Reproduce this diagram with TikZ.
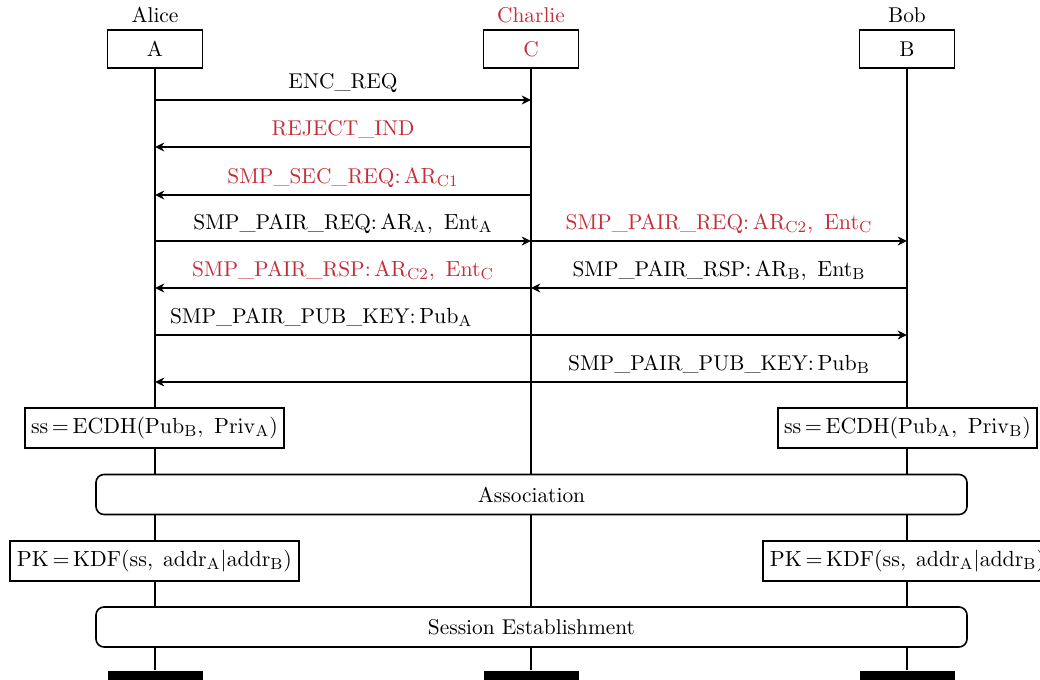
\documentclass[tikz,border=0pt]{standalone}
\usetikzlibrary{arrows.meta}
\definecolor{evered}{RGB}{196,46,56}
\DeclareMathSizes{10.7}{10.7}{7.8}{5.8}
\newcommand\idx[2]{\mathrm{#1}_{\mathrm{#2}}}
\begin{document}
\begin{tikzpicture}[x=0.5pt,y=-0.5pt,line width=0.8pt,
  font=\fontsize{10.7}{13}\selectfont,
  actor/.style={draw,fill=white,minimum width=47.5pt,minimum height=19pt,inner sep=0pt},
  calcbox/.style={draw,fill=white,minimum height=20pt,inner xsep=2pt,inner ysep=0pt},
  phase/.style={draw,fill=white,rounded corners=4pt,minimum width=435.5pt,minimum height=20pt},
  endbar/.style={fill=black,draw=none,minimum width=47.5pt,minimum height=10pt,anchor=north,inner sep=0pt},
  msg/.style={-{Stealth[length=4.6pt,width=4.4pt,inset=1.4pt]}},
  lbl/.style={anchor=base,yshift=6pt,inner sep=0pt},
  spy/.style={text=evered}]
\useasboundingbox (0,0) rectangle (1040,680);

% participants
\node[anchor=base] (tA) at (155,22) {Alice};
\node[anchor=base,spy] (tC) at (531,22) {Charlie};
\node[anchor=base] (tB) at (907,22) {Bob};
\node[actor] (A) at (155,49) {A};
\node[actor,spy] (C) at (531,49) {C};
\node[actor] (B) at (907,49) {B};

% end-of-life bars
\node[endbar] (eA) at (155,670) {};
\node[endbar] (eC) at (531,670) {};
\node[endbar] (eB) at (907,670) {};

% lifelines (drawn before the boxes that sit on them)
\draw (A) -- (eA);
\draw (C) -- (eC);
\draw (B) -- (eB);

% local computations and shared phases
\node[calcbox,minimum width=129.5pt] (sA) at (154.5,428) {$\mathrm{ss}\,{=}\,\mathrm{ECDH}(\idx{Pub}{B},\ \idx{Priv}{A})$};
\node[calcbox,minimum width=129.5pt] (sB) at (907.5,428) {$\mathrm{ss}\,{=}\,\mathrm{ECDH}(\idx{Pub}{A},\ \idx{Priv}{B})$};
\node[phase] (assoc) at (531.5,494.5) {Association};
\node[calcbox,minimum width=144.5pt] (kA) at (154.5,561) {$\mathrm{PK}\,{=}\,\mathrm{KDF}(\mathrm{ss},\;\idx{addr}{A}|\idx{addr}{B})$};
\node[calcbox,minimum width=144.5pt] (kB) at (907.5,561) {$\mathrm{PK}\,{=}\,\mathrm{KDF}(\mathrm{ss},\;\idx{addr}{A}|\idx{addr}{B})$};
\node[phase] (sess) at (531.5,627) {Session Establishment};

% message rows
\coordinate (m1) at (0,100);
\coordinate (m2) at (0,147);
\coordinate (m3) at (0,195);
\coordinate (m4) at (0,241);
\coordinate (m5) at (0,288);
\coordinate (m6) at (0,335);
\coordinate (m7) at (0,382);

\draw[msg] (A |- m1) -- (C |- m1) node[midway,lbl] {ENC\_REQ};
\draw[msg] (C |- m2) -- (A |- m2) node[midway,lbl,spy] {REJECT\_IND};
\draw[msg] (C |- m3) -- (A |- m3) node[midway,lbl,spy] {SMP\_SEC\_REQ$\colon\idx{AR}{C1}$};
\draw[msg] (A |- m4) -- (C |- m4) node[midway,lbl] {SMP\_PAIR\_REQ$\colon\idx{AR}{A},\ \idx{Ent}{A}$};
\draw[msg] (C |- m4) -- (B |- m4) node[midway,lbl,spy] {SMP\_PAIR\_REQ$\colon\idx{AR}{C2},\ \idx{Ent}{C}$};
\draw[msg] (C |- m5) -- (A |- m5) node[midway,lbl,spy] {SMP\_PAIR\_RSP$\colon\idx{AR}{C2},\ \idx{Ent}{C}$};
\draw[msg] (B |- m5) -- (C |- m5) node[midway,lbl] {SMP\_PAIR\_RSP$\colon\idx{AR}{B},\ \idx{Ent}{B}$};
\draw[msg] (A |- m6) -- (B |- m6) node[pos=0.221,lbl] {SMP\_PAIR\_PUB\_KEY$\colon\idx{Pub}{A}$};
\draw[msg] (B |- m7) -- (A |- m7) node[pos=0.25,lbl] {SMP\_PAIR\_PUB\_KEY$\colon\idx{Pub}{B}$};
\end{tikzpicture}
\end{document}
